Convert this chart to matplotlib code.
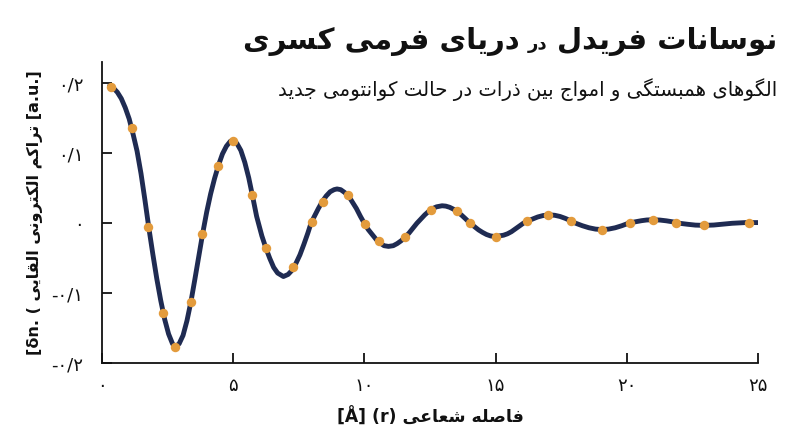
import matplotlib
matplotlib.use('Agg')
import matplotlib.pyplot as plt

# curve (r in Angstrom, delta n in a.u.)
r_line = [0.3, 0.45, 0.6, 0.75, 0.9, 1.05, 1.2, 1.35, 1.5, 1.65, 1.8, 1.95, 2.1, 2.25, 2.4,
          2.55, 2.7, 2.8, 2.95, 3.1, 3.25, 3.4, 3.55, 3.7, 3.85, 4.0, 4.15, 4.3, 4.45, 4.6,
          4.75, 4.9, 5.0, 5.15, 5.3, 5.45, 5.6, 5.75, 5.9, 6.1, 6.25, 6.4, 6.55, 6.7, 6.92,
          7.1, 7.25, 7.4, 7.55, 7.7, 7.85, 7.97, 8.1, 8.25, 8.4, 8.55, 8.7, 8.85, 8.96, 9.1,
          9.25, 9.4, 9.55, 9.7, 9.85, 10.0, 10.15, 10.3, 10.45, 10.6, 10.75, 10.92, 11.1,
          11.25, 11.4, 11.55, 11.7, 11.85, 12.0, 12.15, 12.3, 12.45, 12.6, 12.75, 12.96, 13.1,
          13.25, 13.4, 13.55, 13.7, 13.85, 14.03, 14.2, 14.35, 14.5, 14.65, 14.8, 14.98, 15.15,
          15.3, 15.45, 15.6, 15.75, 15.9, 16.05, 16.2, 16.4, 16.6, 16.8, 17.04, 17.25, 17.45,
          17.65, 17.85, 18.05, 18.3, 18.55, 18.8, 19.05, 19.3, 19.55, 19.8, 20.05, 20.3, 20.55,
          20.75, 20.97, 21.25, 21.5, 21.75, 22.0, 22.3, 22.6, 22.93, 23.3, 23.65, 24.0, 24.5,
          25.0]
dn_line = [0.196, 0.193, 0.187, 0.178, 0.165, 0.149, 0.127, 0.103, 0.071, 0.033, -0.007,
           -0.044, -0.079, -0.110, -0.137, -0.158, -0.172, -0.176, -0.172, -0.160, -0.139,
           -0.112, -0.080, -0.047, -0.014, 0.016, 0.042, 0.064, 0.083, 0.099, 0.110, 0.117,
           0.118, 0.114, 0.104, 0.087, 0.065, 0.038, 0.010, -0.018, -0.035, -0.050, -0.063,
           -0.071, -0.076, -0.073, -0.067, -0.057, -0.045, -0.030, -0.014, 0.000, 0.010, 0.021,
           0.031, 0.039, 0.045, 0.048, 0.049, 0.048, 0.044, 0.039, 0.030, 0.021, 0.010, 0.000,
           -0.009, -0.016, -0.023, -0.028, -0.032, -0.033, -0.032, -0.029, -0.025, -0.020,
           -0.014, -0.007, 0.000, 0.006, 0.012, 0.017, 0.021, 0.0235, 0.025, 0.0245, 0.0228,
           0.020, 0.016, 0.0117, 0.0065, 0.000, -0.005, -0.0095, -0.013, -0.016, -0.018, -0.019,
           -0.018, -0.017, -0.015, -0.012, -0.008, -0.004, 0.000, 0.003, 0.006, 0.009, 0.011,
           0.012, 0.0114, 0.0097, 0.007, 0.0037, 0.000, -0.0035, -0.0064, -0.0083, -0.009,
           -0.0083, -0.0064, -0.0035, 0.000, 0.002, 0.0037, 0.0047, 0.005, 0.0046, 0.0035,
           0.002, 0.000, -0.0014, -0.0026, -0.003, -0.0025, -0.0013, 0.000, 0.001, 0.001]

# sample points (orange dots)
r_pts = [0.35, 1.15, 1.78, 2.35, 2.80, 3.41, 3.84, 4.44, 5.02, 5.73, 6.25, 7.30, 8.00, 8.42,
         9.36, 10.03, 10.54, 11.56, 12.52, 13.51, 14.03, 15.01, 16.18, 17.01, 17.87, 19.05,
         20.11, 20.97, 21.87, 22.93, 24.63]
dn_pts = [0.195, 0.136, -0.006, -0.128, -0.176, -0.112, -0.016, 0.082, 0.118, 0.040, -0.035,
          -0.063, 0.002, 0.030, 0.040, -0.001, -0.025, -0.019, 0.019, 0.017, 0.000, -0.019,
          0.003, 0.012, 0.003, -0.009, 0.001, 0.005, 0.001, -0.003, 0.001]

x_ticks = [0, 5, 10, 15, 20, 25]
x_tick_labels = ['۰', '۵', '۱۰', '۱۵', '۲۰', '۲۵']
y_ticks = [0.2, 0.1, 0, -0.1, -0.2]
y_tick_labels = ['۰/۲', '۰/۱', '۰', '-۰/۱', '-۰/۲']

title_right = 'نوسانات فریدل'
title_mid = 'در'
title_left = 'دریای فرمی کسری'
subtitle = 'الگوهای همبستگی و امواج بین ذرات در حالت کوانتومی جدید'
xlabel_fa = 'فاصله شعاعی'
ylabel_fa = 'تراکم الکترونی القایی'

# very small arabic/persian shaper: (isolated, final, initial, medial)
FORMS = {
    'ا': ('\uFE8D', '\uFE8E', None, None),
    'آ': ('\uFE81', '\uFE82', None, None),
    'د': ('\uFEA9', '\uFEAA', None, None),
    'ذ': ('\uFEAB', '\uFEAC', None, None),
    'ر': ('\uFEAD', '\uFEAE', None, None),
    'ز': ('\uFEAF', '\uFEB0', None, None),
    'و': ('\uFEED', '\uFEEE', None, None),
    'ب': ('\uFE8F', '\uFE90', '\uFE91', '\uFE92'),
    'ت': ('\uFE95', '\uFE96', '\uFE97', '\uFE98'),
    'ج': ('\uFE9D', '\uFE9E', '\uFE9F', '\uFEA0'),
    'ح': ('\uFEA1', '\uFEA2', '\uFEA3', '\uFEA4'),
    'س': ('\uFEB1', '\uFEB2', '\uFEB3', '\uFEB4'),
    'ش': ('\uFEB5', '\uFEB6', '\uFEB7', '\uFEB8'),
    'ص': ('\uFEB9', '\uFEBA', '\uFEBB', '\uFEBC'),
    'ع': ('\uFEC9', '\uFECA', '\uFECB', '\uFECC'),
    'ف': ('\uFED1', '\uFED2', '\uFED3', '\uFED4'),
    'ق': ('\uFED5', '\uFED6', '\uFED7', '\uFED8'),
    'ک': ('\uFB8E', '\uFB8F', '\uFB90', '\uFB91'),
    'گ': ('\uFB92', '\uFB93', '\uFB94', '\uFB95'),
    'ل': ('\uFEDD', '\uFEDE', '\uFEDF', '\uFEE0'),
    'م': ('\uFEE1', '\uFEE2', '\uFEE3', '\uFEE4'),
    'ن': ('\uFEE5', '\uFEE6', '\uFEE7', '\uFEE8'),
    'ه': ('\uFEE9', '\uFEEA', '\uFEEB', '\uFEEC'),
    'ی': ('\uFBFC', '\uFBFD', '\uFBFE', '\uFBFF'),
}


def fa(text):
    out = []
    for i, c in enumerate(text):
        if c not in FORMS:
            out.append(c)
            continue
        prev = text[i - 1] if i > 0 else ''
        nxt = text[i + 1] if i + 1 < len(text) else ''
        jp = prev in FORMS and FORMS[prev][2] is not None
        jn = nxt in FORMS and FORMS[c][2] is not None
        iso, fin, ini, med = FORMS[c]
        if jp and jn:
            out.append(med)
        elif jp:
            out.append(fin)
        elif jn:
            out.append(ini)
        else:
            out.append(iso)
    return ''.join(out)[::-1]


plt.rcParams['font.family'] = ['DejaVu Sans']
navy = '#1f2b52'
orange = '#e39b3c'
ink = '#111111'

fig = plt.figure(figsize=(8, 4.47), dpi=100)
ax = fig.add_axes([0.127, 0.187, 0.821, 0.674])

ax.plot(r_line, dn_line, color=navy, lw=3.5, solid_capstyle='round', solid_joinstyle='round', zorder=2)
ax.plot(r_pts, dn_pts, 'o', color=orange, ms=6.8, mec='none', zorder=3)

ax.set_xlim(0, 25)
ax.set_ylim(-0.2, 0.23)
for s in ['top', 'right']:
    ax.spines[s].set_visible(False)
for s in ['left', 'bottom']:
    ax.spines[s].set_color(ink)
    ax.spines[s].set_linewidth(1.3)

ax.set_xticks(x_ticks, x_tick_labels)
ax.set_yticks(y_ticks, y_tick_labels)
ax.tick_params(direction='in', length=7.5, width=1.3, color=ink, labelsize=13, labelcolor=ink)
ax.tick_params(axis='x', pad=10)
ax.tick_params(axis='y', pad=13)

ax.set_xlabel('[Å] (r) ' + fa(xlabel_fa), fontsize=12.5, fontweight='bold', color=ink, labelpad=9)
ax.set_ylabel('[δn. ( ' + fa(ylabel_fa) + ' [a.u.]', fontsize=11.5, fontweight='bold', color=ink,
              labelpad=6)

# title in three pieces, laid out right to left
fig.canvas.draw()
renderer = fig.canvas.get_renderer()
x_right = 0.971
y_base = 0.891
t1 = fig.text(x_right, y_base, fa(title_right), ha='right', va='baseline', fontsize=21,
              fontweight='bold', color=ink)
bb = t1.get_window_extent(renderer).transformed(fig.transFigure.inverted())
t2 = fig.text(bb.x0 - 0.011, y_base, fa(title_mid), ha='right', va='baseline', fontsize=13,
              fontweight='bold', color=ink)
bb = t2.get_window_extent(renderer).transformed(fig.transFigure.inverted())
fig.text(bb.x0 - 0.011, y_base, fa(title_left), ha='right', va='baseline', fontsize=21,
         fontweight='bold', color=ink)

fig.text(x_right, 0.785, fa(subtitle), ha='right', va='baseline', fontsize=14.2, color=ink)

fig.savefig('out.png', dpi=100)
